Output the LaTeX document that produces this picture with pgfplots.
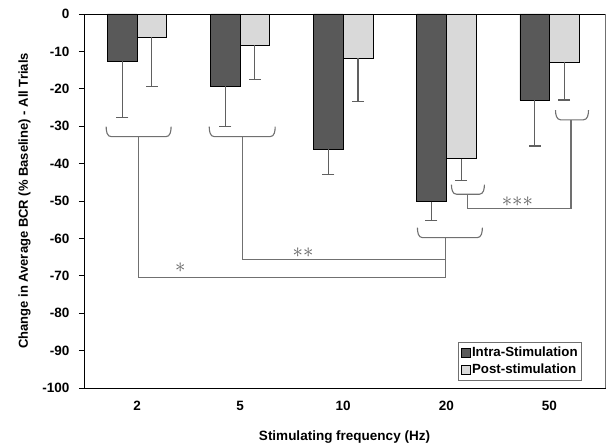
\documentclass[border=0pt]{standalone}
\usepackage{pgfplots}
\pgfplotsset{compat=1.18}
\usepackage{fontspec}
\setmainfont{Liberation Sans}
\definecolor{darkbar}{HTML}{595959}
\definecolor{lightbar}{HTML}{D9D9D9}
\definecolor{annot}{HTML}{707070}
\definecolor{errc}{HTML}{606060}

% bracket with hooks: x1, x2, top, bottom
\newcommand{\brk}[4]{%
  \draw[annot, line width=1.1pt] (axis cs:#1,#3) to[out=-90,in=180] (axis cs:#1+0.05,#4)
    -- (axis cs:#2-0.05,#4) to[out=0,in=-90] (axis cs:#2,#3);}

\pgfplotsset{errs/.style={
  error bars/y dir=minus, error bars/y explicit,
  error bars/error bar style={errc, line width=1.1pt},
  error bars/error mark options={rotate=90, mark size=6pt, errc, line width=1.1pt}}}

\begin{document}
\begin{tikzpicture}
\begin{axis}[
  scale only axis,
  width=521pt, height=374pt,
  xmin=-0.515, xmax=4.54,
  ymin=-100, ymax=0,
  ytick={-100,-90,...,0},
  xtick={0,1,2,3,4},
  xticklabels={2,5,10,20,50},
  x tick style={draw=none},
  y tick style={black, line width=0.8pt},
  tick align=outside,
  major tick length=5pt,
  axis line style={black, line width=0.8pt},
  ybar, bar width=0.287,
  font=\bfseries\fontsize{13.5}{15}\selectfont,
  tick label style={font=\bfseries\fontsize{13.5}{15}\selectfont},
  /pgf/number format/assume math mode=true,
  yticklabel style={xshift=-6pt},
  xticklabel style={yshift=-5pt},
  xlabel={Stimulating frequency (Hz)},
  ylabel={Change in Average BCR (\% Baseline) - All Trials},
  xlabel style={yshift=-13pt, font=\bfseries\fontsize{13.5}{15}\selectfont},
  ylabel style={yshift=5pt, font=\bfseries\fontsize{13}{15}\selectfont},
  clip=false,
  legend style={at={(0.956,0.019)}, anchor=south east, draw=annot, line width=0.8pt,
    font=\bfseries\fontsize{13.3}{15}\selectfont, row sep=2pt, inner xsep=2pt, inner ysep=3pt},
  legend cell align=left,
  legend image code/.code={\draw[#1, draw=black, line width=0.5pt] (0pt,-4.5pt) rectangle (9pt,4.5pt);},
]
\addplot[fill=darkbar, draw=black, line width=0.5pt, bar shift=-0.1435, errs] coordinates {
  (0,-12.6) -= (0,15.1)
  (1,-19.2) -= (0,10.9)
  (2,-36.2) -= (0,6.6)
  (3,-50.2) -= (0,4.9)
  (4,-23.1) -= (0,12.2)
};
\addplot[fill=lightbar, draw=black, line width=0.5pt, bar shift=0.1435, errs] coordinates {
  (0,-6.1) -= (0,13.2)
  (1,-8.3) -= (0,9.3)
  (2,-11.8) -= (0,11.5)
  (3,-38.7) -= (0,5.9)
  (4,-12.8) -= (0,10.2)
};
\legend{Intra-Stimulation, Post-stimulation}

% significance brackets
\brk{-0.30}{0.33}{-30.1}{-32.8}
\brk{0.70}{1.34}{-30.1}{-32.8}
\brk{2.72}{3.35}{-57.1}{-59.8}
\brk{3.05}{3.37}{-45.6}{-48.2}
\brk{4.06}{4.38}{-25.7}{-28.3}
\draw[annot, line width=1.1pt] (axis cs:0.01,-32.8) -- (axis cs:0.01,-70.4) -- (axis cs:2.99,-70.4) -- (axis cs:2.99,-59.8);
\draw[annot, line width=1.1pt] (axis cs:1.02,-32.8) -- (axis cs:1.02,-65.6) -- (axis cs:2.99,-65.6);
\draw[annot, line width=1.1pt] (axis cs:3.21,-48.2) -- (axis cs:3.21,-52.1) -- (axis cs:4.21,-52.1) -- (axis cs:4.21,-28.3);
\node[errc, font=\fontsize{21}{21}\selectfont] at (axis cs:0.42,-67.9) {$\ast$};
\node[errc, font=\fontsize{21}{21}\selectfont] at (axis cs:1.61,-63.8) {${\ast}{\ast}$};
\node[errc, font=\fontsize{21}{21}\selectfont] at (axis cs:3.69,-50.2) {${\ast}{\ast}{\ast}$};
\draw[annot, line width=0.8pt] (rel axis cs:1,0) -- (rel axis cs:1,1);
\end{axis}
\pgfresetboundingbox
\path ([xshift=-84pt,yshift=-59pt]current axis.south west) rectangle ([xshift=1pt,yshift=14pt]current axis.north east);
\end{tikzpicture}
\end{document}
